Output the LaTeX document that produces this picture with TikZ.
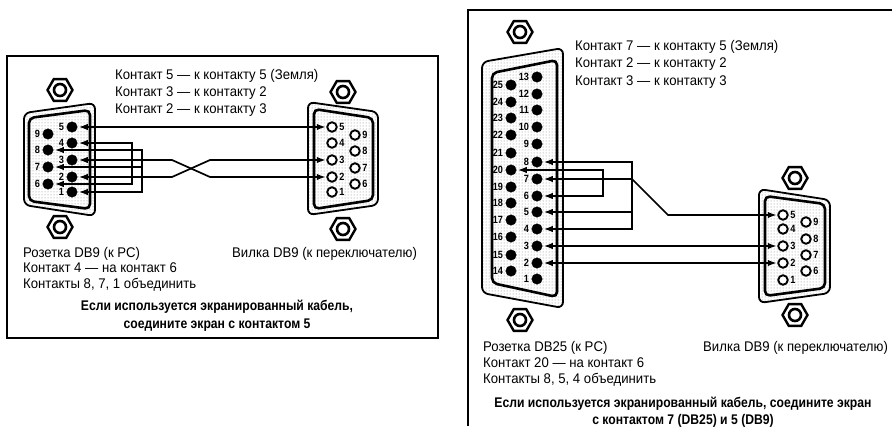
\documentclass[tikz,border=0pt]{standalone}
\usepackage{fontspec}
\setmainfont[FakeStretch=0.94,BoldFeatures={FakeStretch=0.87}]{Liberation Sans}
\usetikzlibrary{arrows.meta,shapes.geometric,patterns}
\tikzset{
	pinf/.style={draw,circle,fill=black,minimum size=10.5pt,inner sep=0pt,outer sep=1.5pt,label distance=-2.5pt},
	pinm/.style={draw,circle,line width=1.9pt,fill=white,minimum size=9.5pt,inner sep=0pt,outer sep=1.5pt,label distance=-2pt},
	every label/.style={font=\fontsize{10.5}{10.5}\selectfont\bfseries,inner sep=1pt},
	nut/.style={draw,line width=2.4pt,fill=white,regular polygon,regular polygon sides=6,minimum size=25pt,inner sep=0pt},
	nuthole/.style={draw,line width=2.6pt,circle,fill=white,minimum size=12pt,inner sep=0pt},
	shell/.style={line width=1.8pt,rounded corners=6pt,pattern=dots,pattern color=gray},
	shellin/.style={line width=2.6pt,rounded corners=5pt},
	wire/.style={line width=1.7pt,>={Latex[length=9pt,width=6.5pt]}},
	txt/.style={anchor=base west,inner sep=0pt,font=\fontsize{14}{14}\selectfont},
	btxt/.style={anchor=base,inner sep=0pt,font=\fontsize{14}{14}\selectfont\bfseries},
	frm/.style={line width=2pt}
}

\begin{document}
\begin{tikzpicture}[x=1pt,y=-1pt]
	\useasboundingbox (0,0) rectangle (892,426);

	\draw[frm] (7,56) rectangle (438,338);
	\coordinate (f1) at (892,10);
	\coordinate (f2) at (468,10);
	\coordinate (f3) at (468,426);
	\draw[frm] (f1) -- (f2) -- (f3);

	% DB9 female
	\draw[shell] (24,113) -- (95,103) -- (95,216) -- (24,205) -- cycle;
	\draw[shellin] (29,118) -- (90,110) -- (90,209) -- (29,201) -- cycle;
	\node[nut] (n1) at (60,90) {};
	\node[nuthole] (h1) at (n1) {};
	\node[nut] (n2) at (60,227) {};
	\node[nuthole] (h2) at (n2) {};

	\node[pinf,label=left:5] (a5) at (72,127) {};
	\node[pinf,label=left:4] (a4) at (72,143) {};
	\node[pinf,label=left:3] (a3) at (72,160) {};
	\node[pinf,label=left:2] (a2) at (72,177) {};
	\node[pinf,label=left:1] (a1) at (72,192) {};
	\node[pinf,label=left:9] (a9) at (48,134) {};
	\node[pinf,label=left:8] (a8) at (48,150) {};
	\node[pinf,label=left:7] (a7) at (48,167) {};
	\node[pinf,label=left:6] (a6) at (48,184) {};

	% DB9 male
	\draw[shell] (308,102) -- (378,112) -- (378,205) -- (308,215) -- cycle;
	\draw[shellin] (314,109) -- (373,118) -- (373,200) -- (314,209) -- cycle;
	\node[nut] (n3) at (343,92) {};
	\node[nuthole] (h3) at (n3) {};
	\node[nut] (n4) at (343,229) {};
	\node[nuthole] (h4) at (n4) {};

	\node[pinm,label=right:5] (b5) at (332,127) {};
	\node[pinm,label=right:4] (b4) at (332,143) {};
	\node[pinm,label=right:3] (b3) at (332,160) {};
	\node[pinm,label=right:2] (b2) at (332,177) {};
	\node[pinm,label=right:1] (b1) at (332,192) {};
	\node[pinm,label=right:9] (b9) at (355,135) {};
	\node[pinm,label=right:8] (b8) at (355,151) {};
	\node[pinm,label=right:7] (b7) at (355,168) {};
	\node[pinm,label=right:6] (b6) at (355,184) {};

	\coordinate (j4) at (132,143);
	\coordinate (j6) at (132,184);
	\coordinate (j8) at (142,150);
	\coordinate (j7) at (142,167);
	\coordinate (j1) at (142,192);
	\coordinate (x1) at (172,160);
	\coordinate (x2) at (210,177);
	\coordinate (x3) at (172,177);
	\coordinate (x4) at (210,160);

	\draw[wire,<->] (a5) -- (b5);
	\draw[wire,<->] (a4) -- (j4) -- (j6) -- (a6);
	\draw[wire,<->] (a8) -- (j8) -- (j1) -- (a1);
	\draw[wire,<-] (a7) -- (j7);
	\draw[wire,<->] (a3) -- (x1) -- (x2) -- (b2);
	\draw[wire,<->] (a2) -- (x3) -- (x4) -- (b3);

	\node[txt] (t1) at (115,79) {Контакт 5 — к контакту 5 (Земля)};
	\node[txt] (t2) at (115,96) {Контакт 3 — к контакту 2};
	\node[txt] (t3) at (115,113) {Контакт 2 — к контакту 3};
	\node[txt] (t4) at (23,257) {Розетка DB9 (к PC)};
	\node[txt] (t5) at (23,272) {Контакт 4 — на контакт 6};
	\node[txt] (t6) at (23,288) {Контакты 8, 7, 1 объединить};
	\node[txt] (t7) at (232,257) {Вилка DB9 (к переключателю)};
	\node[btxt] (t8) at (217,310) {Если используется экранированный кабель,};
	\node[btxt] (t9) at (217,328) {соедините экран с контактом 5};

	% DB25 female
	\draw[shell] (482,62) -- (563,48) -- (563,308) -- (482,293) -- cycle;
	\draw[shellin] (492,73) -- (557,60) -- (557,297) -- (492,283) -- cycle;
	\node[nut] (n5) at (520,32) {};
	\node[nuthole] (h5) at (n5) {};
	\node[nut] (n6) at (520,320) {};
	\node[nuthole] (h6) at (n6) {};

	\node[pinf,label=left:13] (c13) at (537,77) {};
	\node[pinf,label=left:12] (c12) at (537,94) {};
	\node[pinf,label=left:11] (c11) at (537,110) {};
	\node[pinf,label=left:10] (c10) at (537,127) {};
	\node[pinf,label=left:9] (c9) at (537,144) {};
	\node[pinf,label=left:8] (c8) at (537,162) {};
	\node[pinf,label=left:7] (c7) at (537,179) {};
	\node[pinf,label=left:6] (c6) at (537,196) {};
	\node[pinf,label=left:5] (c5) at (537,212) {};
	\node[pinf,label=left:4] (c4) at (537,229) {};
	\node[pinf,label=left:3] (c3) at (537,246) {};
	\node[pinf,label=left:2] (c2) at (537,263) {};
	\node[pinf,label=left:1] (c1) at (537,279) {};
	\node[pinf,label=left:25] (c25) at (511,85) {};
	\node[pinf,label=left:24] (c24) at (511,102) {};
	\node[pinf,label=left:23] (c23) at (511,118) {};
	\node[pinf,label=left:22] (c22) at (511,135) {};
	\node[pinf,label=left:21] (c21) at (511,153) {};
	\node[pinf,label=left:20] (c20) at (511,170) {};
	\node[pinf,label=left:19] (c19) at (511,187) {};
	\node[pinf,label=left:18] (c18) at (511,203) {};
	\node[pinf,label=left:17] (c17) at (511,220) {};
	\node[pinf,label=left:16] (c16) at (511,237) {};
	\node[pinf,label=left:15] (c15) at (511,255) {};
	\node[pinf,label=left:14] (c14) at (511,271) {};

	% DB9 male
	\draw[shell] (759,189) -- (830,200) -- (830,293) -- (759,303) -- cycle;
	\draw[shellin] (765,196) -- (825,204) -- (825,288) -- (765,296) -- cycle;
	\node[nut] (n7) at (795,178) {};
	\node[nuthole] (h7) at (n7) {};
	\node[nut] (n8) at (795,315) {};
	\node[nuthole] (h8) at (n8) {};

	\node[pinm,label=right:5] (d5) at (783,215) {};
	\node[pinm,label=right:4] (d4) at (783,229) {};
	\node[pinm,label=right:3] (d3) at (783,246) {};
	\node[pinm,label=right:2] (d2) at (783,263) {};
	\node[pinm,label=right:1] (d1) at (783,280) {};
	\node[pinm,label=right:9] (d9) at (806,222) {};
	\node[pinm,label=right:8] (d8) at (806,239) {};
	\node[pinm,label=right:7] (d7) at (806,255) {};
	\node[pinm,label=right:6] (d6) at (806,271) {};

	\coordinate (k8) at (632,162);
	\coordinate (k7) at (632,179);
	\coordinate (k5) at (632,212);
	\coordinate (k4) at (632,229);
	\coordinate (k20) at (603,170);
	\coordinate (k6) at (603,196);
	\coordinate (k9) at (668,215);

	\draw[wire,<->] (c8) -- (k8) -- (k4) -- (c4);
	\draw[wire,<-] (c5) -- (k5);
	\draw[wire,<->] (c20) -- (k20) -- (k6) -- (c6);
	\draw[wire,<->] (c7) -- (k7) -- (k9) -- (d5);
	\draw[wire,<->] (c3) -- (d3);
	\draw[wire,<->] (c2) -- (d2);

	\node[txt] (t10) at (575,50) {Контакт 7 — к контакту 5 (Земля)};
	\node[txt] (t11) at (575,67) {Контакт 2 — к контакту 2};
	\node[txt] (t12) at (575,85) {Контакт 3 — к контакту 3};
	\node[txt] (t13) at (483,351) {Розетка DB25 (к PC)};
	\node[txt] (t14) at (483,367) {Контакт 20 — на контакт 6};
	\node[txt] (t15) at (483,383) {Контакты 8, 5, 4 объединить};
	\node[txt] (t16) at (703,351) {Вилка DB9 (к переключателю)};
	\node[btxt] (t17) at (683,407) {Если используется экранированный кабель, соедините экран};
	\node[btxt] (t18) at (683,424) {с контактом 7 (DB25) и 5 (DB9)};

\end{tikzpicture}
\end{document}
